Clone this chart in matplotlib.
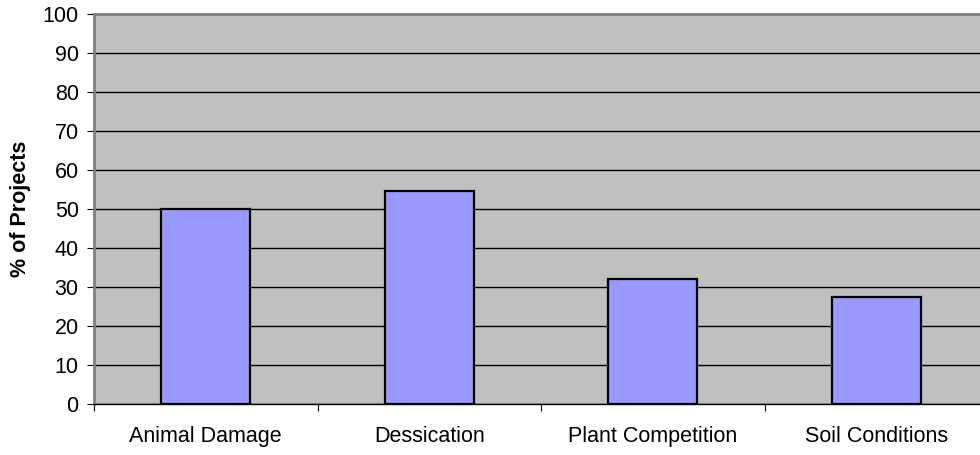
import matplotlib
matplotlib.use("Agg")
import matplotlib.pyplot as plt
import numpy as np

plt.rcParams['font.family'] = ['Liberation Sans', 'DejaVu Sans']

categories = ['Animal Damage', 'Dessication', 'Plant Competition', 'Soil Conditions']
values = [50, 54.5, 32, 27.3]

fig = plt.figure(figsize=(9.8, 4.55), dpi=100)
# plot area runs slightly past the right edge, like the original
ax = fig.add_axes([94/980, 1 - 404/455, 894/980, 390.5/455])
ax.set_facecolor('#C0C0C0')

x = np.arange(len(categories))
ax.bar(x, values, width=0.4, color='#9999FF', edgecolor='black', linewidth=1.6, zorder=3)

ax.set_xlim(-0.5, 3.5)
ax.set_ylim(0, 100)
ax.set_yticks(np.arange(0, 101, 10))
ax.yaxis.grid(True, color='black', linewidth=1.0, zorder=1)
ax.set_axisbelow(True)

# category labels centred, ticks on the boundaries
ax.set_xticks(np.arange(-0.5, 4.0, 1.0))
ax.set_xticklabels([])
ax.set_xticks(x, minor=True)
ax.set_xticklabels(categories, minor=True, fontsize=15.5)
ax.tick_params(axis='x', which='minor', length=0, pad=16)
ax.tick_params(axis='x', which='major', length=5, direction='out', color='black')
ax.tick_params(axis='y', length=5, direction='out', labelsize=15.5, pad=6)

for s in ['left', 'top']:
    ax.spines[s].set_color('#808080')
    ax.spines[s].set_linewidth(2)
ax.spines['right'].set_visible(False)
ax.spines['bottom'].set_color('black')
ax.spines['bottom'].set_linewidth(1)

ax.set_ylabel('% of Projects', fontsize=15.5, fontweight='bold')
ax.yaxis.set_label_coords(-0.071, 0.5)

plt.savefig('out.png', dpi=100)
